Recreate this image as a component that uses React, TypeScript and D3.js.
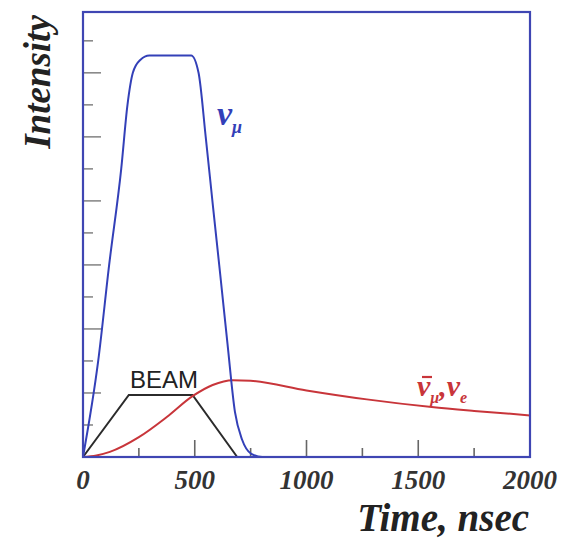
import React from 'react';
import * as d3 from 'd3';

// time in nsec, intensity in arbitrary units
const numuTime = [0, 68, 117, 171, 199, 223, 256, 297, 484, 517, 549, 582, 614, 647, 680, 712, 753, 802, 2000];
const numuIntensity = [0, 3.0, 6.0, 9.0, 11.0, 12.0, 12.4, 12.54, 12.54, 12.0, 10.0, 7.8, 5.7, 3.5, 1.4, 0.54, 0.1, 0, 0];

const beamTime = [0, 205, 490, 690];
const beamIntensity = [0, 1.94, 1.94, 0];

const delayedTime = [0, 60, 120, 250, 375, 490, 580, 670, 750, 1000, 1270, 1560, 1750, 2000];
const delayedIntensity = [0, 0.05, 0.16, 0.62, 1.25, 1.9, 2.25, 2.4, 2.38, 2.08, 1.8, 1.56, 1.44, 1.3];

const timeLabels = [0, 500, 1000, 1500, 2000];
const timeMinorTicks = [250, 750, 1250, 1750];
const intensityTicks = d3.range(1, 14);

const W = 569, H = 540;
const margin = { top: 12, right: 39, bottom: 83, left: 83 };

const frameColor = '#3f46b3';
const blue = '#3340b8';
const red = '#c8353a';
const serif = '"Liberation Serif", "DejaVu Serif", serif';

const zip = (xs: number[], ys: number[]) => xs.map((x, i) => [x, ys[i]] as [number, number]);

const App = () => {
  const x = d3.scaleLinear().domain([0, 2000]).range([margin.left, W - margin.right]);
  const y = d3.scaleLinear().domain([0, 13.9]).range([H - margin.bottom, margin.top]);

  const smooth = d3.line<[number, number]>()
    .x(d => x(d[0]))
    .y(d => y(d[1]))
    .curve(d3.curveMonotoneX);
  const straight = d3.line<[number, number]>()
    .x(d => x(d[0]))
    .y(d => y(d[1]));

  const x0 = x(0), x1 = x(2000), y0 = y(0), y1 = margin.top;

  return (
    <svg width={W} height={H} style={{ position: 'absolute', left: 0, top: 0, background: '#fff' }}>
      {/* inward ticks */}
      {intensityTicks.map(t => (
        <line key={'y' + t} x1={x0} x2={x0 + (t % 2 === 0 ? 18 : 10)} y1={y(t)} y2={y(t)}
          stroke="#8a8a8a" strokeWidth={1.6} />
      ))}
      {timeLabels.slice(1, -1).map(t => (
        <line key={'xm' + t} x1={x(t)} x2={x(t)} y1={y0} y2={y0 - 17} stroke="#666" strokeWidth={1.6} />
      ))}
      {timeMinorTicks.map(t => (
        <line key={'xn' + t} x1={x(t)} x2={x(t)} y1={y0} y2={y0 - 9} stroke="#666" strokeWidth={1.6} />
      ))}

      {/* curves */}
      <path d={straight(zip(beamTime, beamIntensity)) || ''} fill="none" stroke="#2b2b2b" strokeWidth={2} />
      <path d={smooth(zip(delayedTime, delayedIntensity)) || ''} fill="none" stroke={red} strokeWidth={2} />
      <path d={smooth(zip(numuTime, numuIntensity)) || ''} fill="none" stroke={blue} strokeWidth={2} />

      {/* frame */}
      <rect x={x0} y={y1} width={x1 - x0} height={y0 - y1} fill="none" stroke={frameColor} strokeWidth={2.2} />

      {/* tick labels */}
      {timeLabels.map(t => (
        <text key={'l' + t} x={x(t)} y={489} textAnchor="middle" fontFamily={serif}
          fontStyle="italic" fontWeight="bold" fontSize={27} fill="#333">{t}</text>
      ))}

      {/* axis titles */}
      <text x={529} y={531} textAnchor="end" fontFamily={serif} fontStyle="italic" fontWeight="bold"
        fontSize={39} fill="#222">Time, nsec</text>
      <text transform="translate(50,82) rotate(-90)" textAnchor="middle" fontFamily={serif}
        fontStyle="italic" fontWeight="bold" fontSize={37} fill="#222">Intensity</text>

      {/* annotations */}
      <text x={164} y={388} textAnchor="middle" fontFamily='"Liberation Sans", Arial, sans-serif'
        fontSize={24} fill="#222">BEAM</text>
      <text x={217} y={125} fontFamily={serif} fontStyle="italic" fontWeight="bold" fontSize={34} fill={blue}>
        ν<tspan dy={8} fontSize={18}>μ</tspan>
      </text>
      {/* anti-neutrino bar */}
      <line x1={422} x2={432} y1={377} y2={377} stroke={red} strokeWidth={2.2} />
      <text x={417} y={396} fontFamily={serif} fontStyle="italic" fontWeight="bold" fontSize={30} fill={red}>
        ν<tspan dy={7} fontSize={16}>μ</tspan><tspan dy={-7}>,ν</tspan><tspan dy={7} fontSize={16}>e</tspan>
      </text>
    </svg>
  );
};

export default App;
